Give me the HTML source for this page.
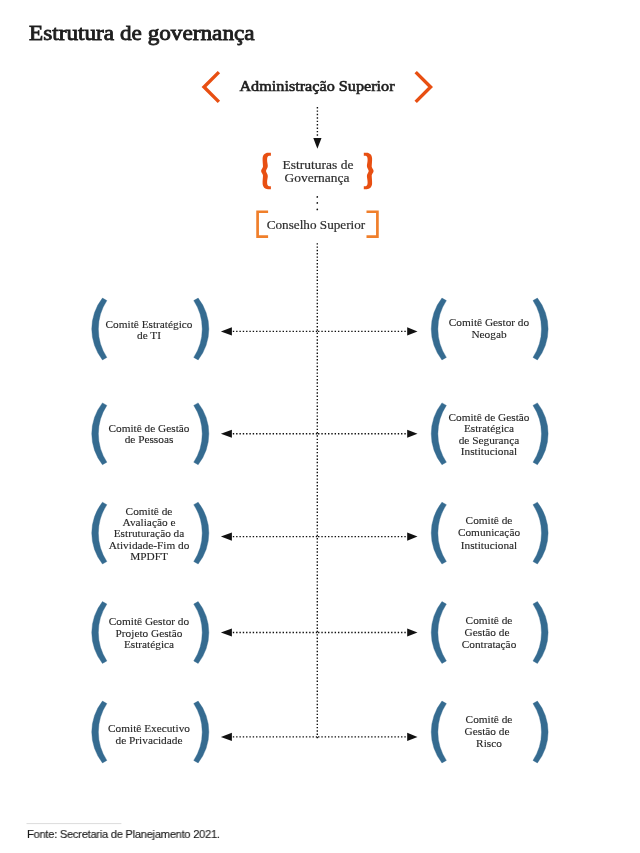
<!DOCTYPE html>
<html><head><meta charset="utf-8">
<style>
html,body{margin:0;padding:0;background:#fff;}
body{width:640px;height:853px;position:relative;overflow:hidden;}
.t{position:absolute;white-space:nowrap;will-change:transform;}
svg{position:absolute;left:0;top:0;}
</style></head><body>
<svg width="640" height="853" viewBox="0 0 640 853">
<polyline points="218.9,72.1 204.0,87.0 218.9,101.9" fill="none" stroke="#e84f12" stroke-width="3.4"/>
<polyline points="415.7,72.1 430.6,87.0 415.7,101.9" fill="none" stroke="#e84f12" stroke-width="3.4"/>
<line x1="317.4" y1="107.0" x2="317.4" y2="136" stroke="#111" stroke-width="1.4" stroke-dasharray="1.4 2.02"/>
<polygon points="313.3,138 321.5,138 317.4,148.8" fill="#111"/>
<circle cx="317.3" cy="196.9" r="0.85" fill="#111"/>
<circle cx="317.3" cy="202.9" r="0.85" fill="#111"/>
<circle cx="317.3" cy="209.4" r="0.85" fill="#111"/>
<line x1="317.3" y1="243.13" x2="317.3" y2="739" stroke="#111" stroke-width="1.4" stroke-dasharray="1.4 1.914"/>
<path d="M270.9,152.8 L268.0,152.8 C265.0,152.8 262.7,155.0 262.6,158.5 C262.5,161 262.9,164 263.0,166.5 C263.0,168 261.1,169.2 261.1,171 C261.1,172.8 263.0,174 263.0,175.5 C262.9,178 262.5,181 262.6,183.5 C262.7,187 265.0,189.2 268.0,189.2 L270.9,189.2 L270.9,186.2 L269.2,186.2 C268.0,186.2 267.1,185.0 267.1,182.5 C267.0,180 267.8,178 267.8,176 C267.8,174 266.0,172.3 266.0,171 C266.0,169.7 267.8,168 267.8,166 C267.8,164 267.0,162 267.1,159.5 C267.1,157 268.0,155.8 269.2,155.8 L270.9,155.8 Z" fill="#e84f12"/>
<path d="M270.9,152.8 L268.0,152.8 C265.0,152.8 262.7,155.0 262.6,158.5 C262.5,161 262.9,164 263.0,166.5 C263.0,168 261.1,169.2 261.1,171 C261.1,172.8 263.0,174 263.0,175.5 C262.9,178 262.5,181 262.6,183.5 C262.7,187 265.0,189.2 268.0,189.2 L270.9,189.2 L270.9,186.2 L269.2,186.2 C268.0,186.2 267.1,185.0 267.1,182.5 C267.0,180 267.8,178 267.8,176 C267.8,174 266.0,172.3 266.0,171 C266.0,169.7 267.8,168 267.8,166 C267.8,164 267.0,162 267.1,159.5 C267.1,157 268.0,155.8 269.2,155.8 L270.9,155.8 Z" fill="#e84f12" transform="translate(634.7,0) scale(-1,1)"/>
<polyline points="268.1,211.75 257.6,211.75 257.6,236.55 268.1,236.55" fill="none" stroke="#f07f2b" stroke-width="2.7"/>
<polyline points="366.5,211.75 377.4,211.75 377.4,236.55 366.5,236.55" fill="none" stroke="#f07f2b" stroke-width="2.7"/>
<path d="M102.45,298.10 A49.97,49.97 0 0 0 102.45,359.90 L106.85,357.40 A51.69,51.69 0 0 1 106.85,300.60 Z" fill="#356b90" stroke="#356b90" stroke-width="0.4" stroke-linejoin="round"/>
<path d="M198.15,298.10 A49.97,49.97 0 0 1 198.15,359.90 L193.75,357.40 A51.69,51.69 0 0 0 193.75,300.60 Z" fill="#356b90" stroke="#356b90" stroke-width="0.4" stroke-linejoin="round"/>
<path d="M441.95,298.10 A49.97,49.97 0 0 0 441.95,359.90 L446.35,357.40 A51.69,51.69 0 0 1 446.35,300.60 Z" fill="#356b90" stroke="#356b90" stroke-width="0.4" stroke-linejoin="round"/>
<path d="M537.40,298.10 A49.97,49.97 0 0 1 537.40,359.90 L533.00,357.40 A51.69,51.69 0 0 0 533.00,300.60 Z" fill="#356b90" stroke="#356b90" stroke-width="0.4" stroke-linejoin="round"/>
<path d="M102.45,402.90 A49.97,49.97 0 0 0 102.45,464.70 L106.85,462.20 A51.69,51.69 0 0 1 106.85,405.40 Z" fill="#356b90" stroke="#356b90" stroke-width="0.4" stroke-linejoin="round"/>
<path d="M198.15,402.90 A49.97,49.97 0 0 1 198.15,464.70 L193.75,462.20 A51.69,51.69 0 0 0 193.75,405.40 Z" fill="#356b90" stroke="#356b90" stroke-width="0.4" stroke-linejoin="round"/>
<path d="M441.95,402.90 A49.97,49.97 0 0 0 441.95,464.70 L446.35,462.20 A51.69,51.69 0 0 1 446.35,405.40 Z" fill="#356b90" stroke="#356b90" stroke-width="0.4" stroke-linejoin="round"/>
<path d="M537.40,402.90 A49.97,49.97 0 0 1 537.40,464.70 L533.00,462.20 A51.69,51.69 0 0 0 533.00,405.40 Z" fill="#356b90" stroke="#356b90" stroke-width="0.4" stroke-linejoin="round"/>
<path d="M102.45,502.20 A49.97,49.97 0 0 0 102.45,564.00 L106.85,561.50 A51.69,51.69 0 0 1 106.85,504.70 Z" fill="#356b90" stroke="#356b90" stroke-width="0.4" stroke-linejoin="round"/>
<path d="M198.15,502.20 A49.97,49.97 0 0 1 198.15,564.00 L193.75,561.50 A51.69,51.69 0 0 0 193.75,504.70 Z" fill="#356b90" stroke="#356b90" stroke-width="0.4" stroke-linejoin="round"/>
<path d="M441.95,502.20 A49.97,49.97 0 0 0 441.95,564.00 L446.35,561.50 A51.69,51.69 0 0 1 446.35,504.70 Z" fill="#356b90" stroke="#356b90" stroke-width="0.4" stroke-linejoin="round"/>
<path d="M537.40,502.20 A49.97,49.97 0 0 1 537.40,564.00 L533.00,561.50 A51.69,51.69 0 0 0 533.00,504.70 Z" fill="#356b90" stroke="#356b90" stroke-width="0.4" stroke-linejoin="round"/>
<path d="M102.45,601.60 A49.97,49.97 0 0 0 102.45,663.40 L106.85,660.90 A51.69,51.69 0 0 1 106.85,604.10 Z" fill="#356b90" stroke="#356b90" stroke-width="0.4" stroke-linejoin="round"/>
<path d="M198.15,601.60 A49.97,49.97 0 0 1 198.15,663.40 L193.75,660.90 A51.69,51.69 0 0 0 193.75,604.10 Z" fill="#356b90" stroke="#356b90" stroke-width="0.4" stroke-linejoin="round"/>
<path d="M441.95,601.60 A49.97,49.97 0 0 0 441.95,663.40 L446.35,660.90 A51.69,51.69 0 0 1 446.35,604.10 Z" fill="#356b90" stroke="#356b90" stroke-width="0.4" stroke-linejoin="round"/>
<path d="M537.40,601.60 A49.97,49.97 0 0 1 537.40,663.40 L533.00,660.90 A51.69,51.69 0 0 0 533.00,604.10 Z" fill="#356b90" stroke="#356b90" stroke-width="0.4" stroke-linejoin="round"/>
<path d="M102.45,701.10 A49.97,49.97 0 0 0 102.45,762.90 L106.85,760.40 A51.69,51.69 0 0 1 106.85,703.60 Z" fill="#356b90" stroke="#356b90" stroke-width="0.4" stroke-linejoin="round"/>
<path d="M198.15,701.10 A49.97,49.97 0 0 1 198.15,762.90 L193.75,760.40 A51.69,51.69 0 0 0 193.75,703.60 Z" fill="#356b90" stroke="#356b90" stroke-width="0.4" stroke-linejoin="round"/>
<path d="M441.95,701.10 A49.97,49.97 0 0 0 441.95,762.90 L446.35,760.40 A51.69,51.69 0 0 1 446.35,703.60 Z" fill="#356b90" stroke="#356b90" stroke-width="0.4" stroke-linejoin="round"/>
<path d="M537.40,701.10 A49.97,49.97 0 0 1 537.40,762.90 L533.00,760.40 A51.69,51.69 0 0 0 533.00,703.60 Z" fill="#356b90" stroke="#356b90" stroke-width="0.4" stroke-linejoin="round"/>
<line x1="232.8" y1="331.4" x2="318" y2="331.4" stroke="#111" stroke-width="1.4" stroke-dasharray="1.4 1.92"/>
<line x1="405.75" y1="331.4" x2="318" y2="331.4" stroke="#111" stroke-width="1.4" stroke-dasharray="1.4 1.92"/>
<polygon points="220.9,331.4 231.9,327.29999999999995 231.9,335.5" fill="#111"/>
<polygon points="417.5,331.4 407.2,327.29999999999995 407.2,335.5" fill="#111"/>
<line x1="232.8" y1="433.75" x2="318" y2="433.75" stroke="#111" stroke-width="1.4" stroke-dasharray="1.4 1.92"/>
<line x1="405.75" y1="433.75" x2="318" y2="433.75" stroke="#111" stroke-width="1.4" stroke-dasharray="1.4 1.92"/>
<polygon points="220.9,433.75 231.9,429.65 231.9,437.85" fill="#111"/>
<polygon points="417.5,433.75 407.2,429.65 407.2,437.85" fill="#111"/>
<line x1="232.8" y1="536.6" x2="318" y2="536.6" stroke="#111" stroke-width="1.4" stroke-dasharray="1.4 1.92"/>
<line x1="405.75" y1="536.6" x2="318" y2="536.6" stroke="#111" stroke-width="1.4" stroke-dasharray="1.4 1.92"/>
<polygon points="220.9,536.6 231.9,532.5 231.9,540.7" fill="#111"/>
<polygon points="417.5,536.6 407.2,532.5 407.2,540.7" fill="#111"/>
<line x1="232.8" y1="632.5" x2="318" y2="632.5" stroke="#111" stroke-width="1.4" stroke-dasharray="1.4 1.92"/>
<line x1="405.75" y1="632.5" x2="318" y2="632.5" stroke="#111" stroke-width="1.4" stroke-dasharray="1.4 1.92"/>
<polygon points="220.9,632.5 231.9,628.4 231.9,636.6" fill="#111"/>
<polygon points="417.5,632.5 407.2,628.4 407.2,636.6" fill="#111"/>
<line x1="232.8" y1="736.9" x2="318" y2="736.9" stroke="#111" stroke-width="1.4" stroke-dasharray="1.4 1.92"/>
<line x1="405.75" y1="736.9" x2="318" y2="736.9" stroke="#111" stroke-width="1.4" stroke-dasharray="1.4 1.92"/>
<polygon points="220.9,736.9 231.9,732.8 231.9,741.0" fill="#111"/>
<polygon points="417.5,736.9 407.2,732.8 407.2,741.0" fill="#111"/>
<line x1="26.5" y1="823.6" x2="121.4" y2="823.6" stroke="#dcdcdc" stroke-width="1"/>
</svg>
<div class="t" style="left:29.00px;top:17.64px;font-family:'Liberation Serif',serif;font-size:21.5px;line-height:30px;letter-spacing:0px;font-weight:normal;color:#1e1e1e;-webkit-text-stroke:0.85px #1e1e1e;transform:scaleX(1.08);transform-origin:left top;">Estrutura de governança</div>
<div class="t" style="left:197.00px;top:75.84px;width:240px;text-align:center;font-family:'Liberation Serif',serif;font-size:15px;line-height:20px;letter-spacing:0px;font-weight:normal;color:#1e1e1e;-webkit-text-stroke:0.6px #1e1e1e;transform:scaleX(1.08);transform-origin:center top;">Administração Superior</div>
<div class="t" style="left:237.70px;top:154.68px;width:160px;text-align:center;font-family:'Liberation Serif',serif;font-size:12.5px;line-height:20px;letter-spacing:0px;font-weight:normal;color:#2e2e2e;-webkit-text-stroke:0.2px #2e2e2e;transform:scaleX(1.08);transform-origin:center top;">Estruturas de</div>
<div class="t" style="left:237.00px;top:167.68px;width:160px;text-align:center;font-family:'Liberation Serif',serif;font-size:12.5px;line-height:20px;letter-spacing:0px;font-weight:normal;color:#2e2e2e;-webkit-text-stroke:0.2px #2e2e2e;transform:scaleX(1.075);transform-origin:center top;">Governança</div>
<div class="t" style="left:236.40px;top:214.68px;width:160px;text-align:center;font-family:'Liberation Serif',serif;font-size:12.5px;line-height:20px;letter-spacing:0px;font-weight:normal;color:#2e2e2e;-webkit-text-stroke:0.2px #2e2e2e;transform:scaleX(1.055);transform-origin:center top;">Conselho Superior</div>
<div class="t" style="left:79.10px;top:314.12px;width:140px;text-align:center;font-family:'Liberation Serif',serif;font-size:11.2px;line-height:20px;letter-spacing:0px;font-weight:normal;color:#262626;-webkit-text-stroke:0.12px #262626;transform:scaleX(1.01);transform-origin:center top;">Comitê Estratégico</div>
<div class="t" style="left:79.10px;top:325.12px;width:140px;text-align:center;font-family:'Liberation Serif',serif;font-size:11.2px;line-height:20px;letter-spacing:0px;font-weight:normal;color:#262626;-webkit-text-stroke:0.12px #262626;transform:scaleX(1.01);transform-origin:center top;">de TI</div>
<div class="t" style="left:418.70px;top:312.12px;width:140px;text-align:center;font-family:'Liberation Serif',serif;font-size:11.2px;line-height:20px;letter-spacing:0px;font-weight:normal;color:#262626;-webkit-text-stroke:0.12px #262626;transform:scaleX(1.01);transform-origin:center top;">Comitê Gestor do</div>
<div class="t" style="left:418.70px;top:324.12px;width:140px;text-align:center;font-family:'Liberation Serif',serif;font-size:11.2px;line-height:20px;letter-spacing:0px;font-weight:normal;color:#262626;-webkit-text-stroke:0.12px #262626;transform:scaleX(1.01);transform-origin:center top;">Neogab</div>
<div class="t" style="left:79.10px;top:418.12px;width:140px;text-align:center;font-family:'Liberation Serif',serif;font-size:11.2px;line-height:20px;letter-spacing:0px;font-weight:normal;color:#262626;-webkit-text-stroke:0.12px #262626;transform:scaleX(1.01);transform-origin:center top;">Comitê de Gestão</div>
<div class="t" style="left:79.10px;top:429.12px;width:140px;text-align:center;font-family:'Liberation Serif',serif;font-size:11.2px;line-height:20px;letter-spacing:0px;font-weight:normal;color:#262626;-webkit-text-stroke:0.12px #262626;transform:scaleX(1.01);transform-origin:center top;">de Pessoas</div>
<div class="t" style="left:418.70px;top:407.12px;width:140px;text-align:center;font-family:'Liberation Serif',serif;font-size:11.2px;line-height:20px;letter-spacing:0px;font-weight:normal;color:#262626;-webkit-text-stroke:0.12px #262626;transform:scaleX(1.01);transform-origin:center top;">Comitê de Gestão</div>
<div class="t" style="left:418.70px;top:418.12px;width:140px;text-align:center;font-family:'Liberation Serif',serif;font-size:11.2px;line-height:20px;letter-spacing:0px;font-weight:normal;color:#262626;-webkit-text-stroke:0.12px #262626;transform:scaleX(1.01);transform-origin:center top;">Estratégica</div>
<div class="t" style="left:418.70px;top:430.12px;width:140px;text-align:center;font-family:'Liberation Serif',serif;font-size:11.2px;line-height:20px;letter-spacing:0px;font-weight:normal;color:#262626;-webkit-text-stroke:0.12px #262626;transform:scaleX(1.01);transform-origin:center top;">de Segurança</div>
<div class="t" style="left:418.70px;top:441.12px;width:140px;text-align:center;font-family:'Liberation Serif',serif;font-size:11.2px;line-height:20px;letter-spacing:0px;font-weight:normal;color:#262626;-webkit-text-stroke:0.12px #262626;transform:scaleX(1.01);transform-origin:center top;">Institucional</div>
<div class="t" style="left:79.10px;top:501.12px;width:140px;text-align:center;font-family:'Liberation Serif',serif;font-size:11.2px;line-height:20px;letter-spacing:0px;font-weight:normal;color:#262626;-webkit-text-stroke:0.12px #262626;transform:scaleX(1.01);transform-origin:center top;">Comitê de</div>
<div class="t" style="left:79.10px;top:512.12px;width:140px;text-align:center;font-family:'Liberation Serif',serif;font-size:11.2px;line-height:20px;letter-spacing:0px;font-weight:normal;color:#262626;-webkit-text-stroke:0.12px #262626;transform:scaleX(1.01);transform-origin:center top;">Avaliação e</div>
<div class="t" style="left:79.10px;top:523.12px;width:140px;text-align:center;font-family:'Liberation Serif',serif;font-size:11.2px;line-height:20px;letter-spacing:0px;font-weight:normal;color:#262626;-webkit-text-stroke:0.12px #262626;transform:scaleX(1.01);transform-origin:center top;">Estruturação da</div>
<div class="t" style="left:79.10px;top:535.12px;width:140px;text-align:center;font-family:'Liberation Serif',serif;font-size:11.2px;line-height:20px;letter-spacing:0px;font-weight:normal;color:#262626;-webkit-text-stroke:0.12px #262626;transform:scaleX(1.01);transform-origin:center top;">Atividade-Fim do</div>
<div class="t" style="left:79.10px;top:546.12px;width:140px;text-align:center;font-family:'Liberation Serif',serif;font-size:11.2px;line-height:20px;letter-spacing:0px;font-weight:normal;color:#262626;-webkit-text-stroke:0.12px #262626;transform:scaleX(1.01);transform-origin:center top;">MPDFT</div>
<div class="t" style="left:418.70px;top:510.12px;width:140px;text-align:center;font-family:'Liberation Serif',serif;font-size:11.2px;line-height:20px;letter-spacing:0px;font-weight:normal;color:#262626;-webkit-text-stroke:0.12px #262626;transform:scaleX(1.01);transform-origin:center top;">Comitê de</div>
<div class="t" style="left:418.70px;top:522.12px;width:140px;text-align:center;font-family:'Liberation Serif',serif;font-size:11.2px;line-height:20px;letter-spacing:0px;font-weight:normal;color:#262626;-webkit-text-stroke:0.12px #262626;transform:scaleX(1.01);transform-origin:center top;">Comunicação</div>
<div class="t" style="left:418.70px;top:535.12px;width:140px;text-align:center;font-family:'Liberation Serif',serif;font-size:11.2px;line-height:20px;letter-spacing:0px;font-weight:normal;color:#262626;-webkit-text-stroke:0.12px #262626;transform:scaleX(1.01);transform-origin:center top;">Institucional</div>
<div class="t" style="left:79.10px;top:611.12px;width:140px;text-align:center;font-family:'Liberation Serif',serif;font-size:11.2px;line-height:20px;letter-spacing:0px;font-weight:normal;color:#262626;-webkit-text-stroke:0.12px #262626;transform:scaleX(1.01);transform-origin:center top;">Comitê Gestor do</div>
<div class="t" style="left:79.10px;top:623.12px;width:140px;text-align:center;font-family:'Liberation Serif',serif;font-size:11.2px;line-height:20px;letter-spacing:0px;font-weight:normal;color:#262626;-webkit-text-stroke:0.12px #262626;transform:scaleX(1.01);transform-origin:center top;">Projeto Gestão</div>
<div class="t" style="left:79.10px;top:634.12px;width:140px;text-align:center;font-family:'Liberation Serif',serif;font-size:11.2px;line-height:20px;letter-spacing:0px;font-weight:normal;color:#262626;-webkit-text-stroke:0.12px #262626;transform:scaleX(1.01);transform-origin:center top;">Estratégica</div>
<div class="t" style="left:418.70px;top:610.12px;width:140px;text-align:center;font-family:'Liberation Serif',serif;font-size:11.2px;line-height:20px;letter-spacing:0px;font-weight:normal;color:#262626;-webkit-text-stroke:0.12px #262626;transform:scaleX(1.01);transform-origin:center top;">Comitê de</div>
<div class="t" style="left:417.20px;top:622.12px;width:140px;text-align:center;font-family:'Liberation Serif',serif;font-size:11.2px;line-height:20px;letter-spacing:0px;font-weight:normal;color:#262626;-webkit-text-stroke:0.12px #262626;transform:scaleX(1.01);transform-origin:center top;">Gestão de</div>
<div class="t" style="left:418.70px;top:634.12px;width:140px;text-align:center;font-family:'Liberation Serif',serif;font-size:11.2px;line-height:20px;letter-spacing:0px;font-weight:normal;color:#262626;-webkit-text-stroke:0.12px #262626;transform:scaleX(1.01);transform-origin:center top;">Contratação</div>
<div class="t" style="left:79.10px;top:718.12px;width:140px;text-align:center;font-family:'Liberation Serif',serif;font-size:11.2px;line-height:20px;letter-spacing:0px;font-weight:normal;color:#262626;-webkit-text-stroke:0.12px #262626;transform:scaleX(1.01);transform-origin:center top;">Comitê Executivo</div>
<div class="t" style="left:79.10px;top:730.12px;width:140px;text-align:center;font-family:'Liberation Serif',serif;font-size:11.2px;line-height:20px;letter-spacing:0px;font-weight:normal;color:#262626;-webkit-text-stroke:0.12px #262626;transform:scaleX(1.01);transform-origin:center top;">de Privacidade</div>
<div class="t" style="left:418.70px;top:709.12px;width:140px;text-align:center;font-family:'Liberation Serif',serif;font-size:11.2px;line-height:20px;letter-spacing:0px;font-weight:normal;color:#262626;-webkit-text-stroke:0.12px #262626;transform:scaleX(1.01);transform-origin:center top;">Comitê de</div>
<div class="t" style="left:417.20px;top:721.12px;width:140px;text-align:center;font-family:'Liberation Serif',serif;font-size:11.2px;line-height:20px;letter-spacing:0px;font-weight:normal;color:#262626;-webkit-text-stroke:0.12px #262626;transform:scaleX(1.01);transform-origin:center top;">Gestão de</div>
<div class="t" style="left:418.70px;top:733.12px;width:140px;text-align:center;font-family:'Liberation Serif',serif;font-size:11.2px;line-height:20px;letter-spacing:0px;font-weight:normal;color:#262626;-webkit-text-stroke:0.12px #262626;transform:scaleX(1.01);transform-origin:center top;">Risco</div>
<div class="t" style="left:27.00px;top:823.88px;font-family:'Liberation Sans',serif;font-size:11.6px;line-height:20px;letter-spacing:-0.3px;font-weight:normal;color:#1a1a1a;-webkit-text-stroke:0.12px #1a1a1a;transform:scaleX(0.965);transform-origin:left top;">Fonte: Secretaria de Planejamento 2021.</div>
</body></html>
